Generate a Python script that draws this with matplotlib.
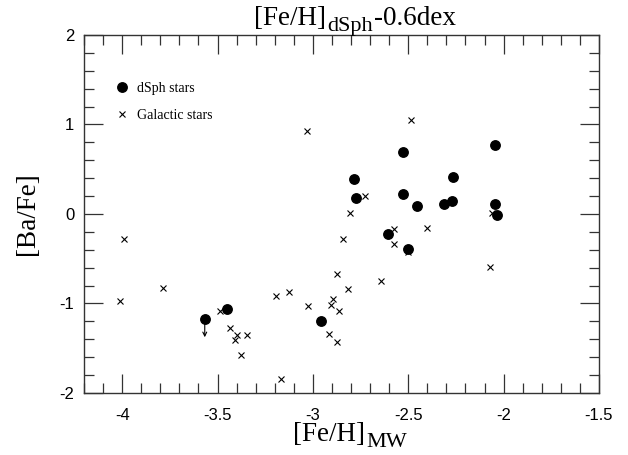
import matplotlib
matplotlib.use("Agg")
import matplotlib.pyplot as plt
from matplotlib.ticker import MultipleLocator

# dSph stars
dsph_feh = [-2.783, -2.774, -2.525, -2.044, -2.263, -2.525, -2.453, -2.314,
            -2.272, -2.044, -2.033, -2.604, -2.502, -3.449, -3.567, -2.956]
dsph_bafe = [0.388, 0.175, 0.696, 0.768, 0.41, 0.227, 0.093, 0.108,
             0.149, 0.108, -0.011, -0.223, -0.394, -1.058, -1.177, -1.196]
# upper limits among dSph stars (index into the arrays above)
dsph_upper_limit = [14]

# Galactic stars
gal_feh = [-3.033, -2.807, -2.484, -2.725, -2.06, -3.988, -2.844, -3.788,
           -4.009, -2.875, -2.816, -3.195, -3.126, -3.026, -2.893, -2.905,
           -2.865, -2.916, -2.875, -3.486, -3.437, -3.396, -3.409, -3.346,
           -3.377, -3.167, -2.575, -2.402, -2.575, -2.502, -2.07, -2.644]
gal_bafe = [0.927, 0.008, 1.05, 0.204, 0.008, -0.283, -0.276, -0.823,
            -0.972, -0.674, -0.842, -0.92, -0.872, -1.028, -0.953, -1.02,
            -1.08, -1.344, -1.427, -1.084, -1.274, -1.352, -1.408, -1.352,
            -1.575, -1.847, -0.164, -0.153, -0.335, -0.428, -0.596, -0.745]

xticks = [-4, -3.5, -3, -2.5, -2, -1.5]
xticklabels = ['-4', '-3.5', '-3', '-2.5', '-2', '-1.5']
yticks = [-2, -1, 0, 1, 2]
yticklabels = ['-2', '-1', '0', '1', '2']

title_parts = ['[Fe/H]', 'dSph', '-0.6dex']
xlabel_parts = ['[Fe/H]', 'MW']

serif = 'Liberation Serif'
fig = plt.figure(figsize=(6.28, 4.55), dpi=100)
ax = fig.add_axes([0.1338, 0.1363, 0.82, 0.7868])

ax.plot(gal_feh, gal_bafe, linestyle='none', marker='x', color='black',
        markersize=5, markeredgewidth=0.8, label='Galactic stars')
ax.plot(dsph_feh, dsph_bafe, linestyle='none', marker='o', color='black',
        markersize=6.8, label='dSph stars')
for i in dsph_upper_limit:
    ax.annotate('', xy=(dsph_feh[i], dsph_bafe[i] - 0.2),
                xytext=(dsph_feh[i], dsph_bafe[i]),
                arrowprops=dict(arrowstyle='->', lw=0.8, color='black',
                                shrinkA=0, shrinkB=0, mutation_scale=7))

ax.set_xlim(-4.2, -1.5)
ax.set_ylim(-2, 2)
ax.set_xticks(xticks)
ax.set_xticklabels(xticklabels)
ax.set_yticks(yticks)
ax.set_yticklabels(yticklabels)
ax.xaxis.set_minor_locator(MultipleLocator(0.1))
ax.yaxis.set_minor_locator(MultipleLocator(0.2))
ax.tick_params(which='both', direction='in', top=True, right=True,
               width=0.9, color='#333333')
ax.tick_params(which='major', length=14, labelsize=12)
ax.tick_params(axis='x', which='major', pad=11)
ax.tick_params(axis='y', which='major', pad=7)
ax.tick_params(which='minor', length=7)
for lab in ax.get_xticklabels() + ax.get_yticklabels():
    lab.set_fontfamily('Liberation Sans')
for s in ax.spines.values():
    s.set_linewidth(1.0)
    s.set_color('#333333')


def sub_text(x_px, y_px, main, sub, tail, size, sub_size, drop):
    t1 = fig.text(x_px / 628, 1 - y_px / 455, main, ha='left', va='baseline',
                  fontsize=size, family=serif)
    d1 = 0.216 * size
    t2 = fig.add_artist(plt.Annotation(sub, xy=(1, 0), xycoords=t1,
                                       xytext=(1, d1 - drop),
                                       textcoords='offset points',
                                       ha='left', va='baseline',
                                       fontsize=sub_size, family=serif))
    if tail:
        d2 = 0.216 * sub_size
        fig.add_artist(plt.Annotation(tail, xy=(1, 0), xycoords=t2,
                                      xytext=(1, d2 + drop),
                                      textcoords='offset points',
                                      ha='left', va='baseline',
                                      fontsize=size, family=serif))


# Title: [Fe/H] with subscript dSph, then -0.6dex
sub_text(254, 25, title_parts[0], title_parts[1], title_parts[2], 19.5, 16, 4.5)
# x label: [Fe/H] with subscript MW
sub_text(293, 441, xlabel_parts[0], xlabel_parts[1], None, 19.5, 16, 4.5)
ax.set_ylabel('[Ba/Fe]', fontsize=19.5, family=serif, labelpad=14)

handles, labels = ax.get_legend_handles_labels()
leg = ax.legend(handles[::-1], labels[::-1], loc='upper left',
                bbox_to_anchor=(0.0515, 0.884), frameon=False,
                prop={'family': serif, 'size': 10},
                handlelength=0.8, handletextpad=0.7, labelspacing=1.0,
                borderaxespad=0)

fig.savefig('out.png', dpi=100)
